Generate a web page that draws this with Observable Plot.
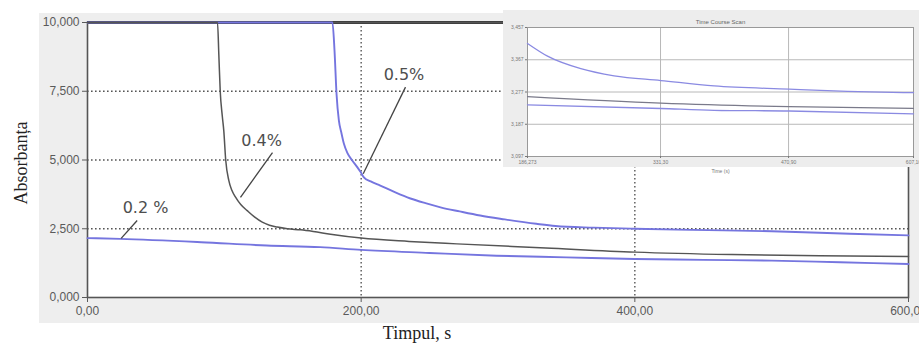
<!DOCTYPE html>
<html>
<head>
<meta charset="utf-8">
<script src="https://cdn.jsdelivr.net/npm/d3@7"></script>
<script src="https://cdn.jsdelivr.net/npm/@observablehq/plot@0.6"></script>
<style>
  body { margin: 0; background: #fff; }
  #wrap { position: relative; width: 919px; height: 343px; overflow: hidden; background: #fff; }
  #panel { position: absolute; left: 39px; top: 13px; width: 880px; height: 310px; background: #eeeeee; }
  #main { position: absolute; left: 0; top: 0; }
  #inset { position: absolute; left: 503px; top: 10px; }
</style>
</head>
<body>
<div id="wrap"><div id="panel"></div><div id="main"></div><div id="inset"></div></div>
<script>
// ---- main chart data ----
const t05 = [0,179,180.5,182,183.7,185.5,187.4,190,193.5,197,199.6,202,207,214,225,236,247,258,272,287,305,328,342,370,400,442,500,557,600];
const a05 = [10,10,9,7.4,6.44,6.0,5.59,5.25,4.98,4.75,4.56,4.37,4.22,4.07,3.82,3.6,3.43,3.28,3.13,2.98,2.84,2.68,2.6,2.54,2.5,2.46,2.41,2.32,2.26];
const t04 = [0,95,96,97,98.5,99.6,101,103.3,105.5,108.2,112,116.7,122,127.7,133,138.7,146,155.7,165,177.6,200,235,270,335,400,471,535,600];
const a04 = [10,10,8.8,7.5,6.6,6.07,5.0,4.25,3.9,3.65,3.38,3.16,2.93,2.74,2.63,2.56,2.5,2.46,2.4,2.3,2.16,2.04,1.95,1.8,1.65,1.56,1.52,1.49];
const t02 = [0,24,83,131,170,200,250,299,350,400,450,500,550,600];
const a02 = [2.16,2.13,2.01,1.89,1.83,1.73,1.62,1.52,1.46,1.40,1.37,1.34,1.28,1.22];

const yTicks = [0, 2.5, 5, 7.5, 10];
const yTickLabels = ["0,000", "2,500", "5,000", "7,500", "10,000"];
const xTicks = [0, 200, 400, 600];
const xTickLabels = ["0,00", "200,00", "400,00", "600,00"];
const yGrid = [2.5, 5, 7.5];
const xGrid = [200, 400];

const annText = ["0.2 %", "0.4%", "0.5%"];
const annX = [42.4, 127.2, 231.3];
const annY = [3.25, 5.69, 8.11];
const leadX1 = [24.6, 111.8, 201.5];
const leadY1 = [2.15, 3.64, 4.50];
const leadX2 = [36.3, 135.2, 232.4];
const leadY2 = [2.8, 5.27, 7.65];

const yTitle = "Absorbanța";
const xTitle = "Timpul, s";

// ---- inset data ----
const insT = [186.27,208.1,244.4,280.7,331.6,389.7,471.5,535.1,607.1];
const insTop = [3.4125,3.377,3.342,3.322,3.309,3.294,3.285,3.279,3.275];
const insMidT = [186.27,331.6,471.5,607.1];
const insMid = [3.264,3.246,3.236,3.231];
const insLowT = [186.27,331.6,389.7,471.5,607.1];
const insLow = [3.241,3.231,3.226,3.224,3.216];
const insYTicks = [3.097,3.187,3.277,3.367,3.457];
const insYLabels = ["3,097","3,187","3,277","3,367","3,457"];
const insXTicks = [186.27,331.3,470.9,607.1];
const insXLabels = ["186,273","331,30","470,90","607,10"];
const insTitle = "Time Course Scan";
const insXTitle = "Time (s)";

const BLUE = "#7575df";
const GRAY = "#555555";

const toRows = (ts, vs) => ts.map((t, i) => ({t, v: vs[i]}));
const s05 = toRows(t05, a05), s04 = toRows(t04, a04), s02 = toRows(t02, a02);
const ann = annText.map((s, i) => ({s, x: annX[i], y: annY[i]}));
const leads = leadX1.map((x1, i) => ({x1, y1: leadY1[i], x2: leadX2[i], y2: leadY2[i]}));

const dotted = {stroke: "#555", strokeWidth: 1.4, strokeDasharray: "1.6,2.4"};

const main = Plot.plot({
  width: 919, height: 343,
  marginLeft: 87, marginRight: 11, marginTop: 22, marginBottom: 46,
  x: {domain: [0, 600]},
  y: {domain: [0, 10]},
  style: {background: "transparent", color: "#5a5a5a", fontFamily: "'Liberation Sans', Arial, sans-serif", overflow: "visible"},
  marks: [
    Plot.frame({fill: "white", stroke: null}),
    Plot.ruleY(yGrid, dotted),
    Plot.ruleX(xGrid, dotted),
    Plot.ruleY([10], {stroke: "#383838", strokeWidth: 3}),
    Plot.frame({stroke: "#555", strokeWidth: 1.6}),
    Plot.line(s05, {x: "t", y: "v", stroke: BLUE, strokeWidth: 1.9, curve: "monotone-x"}),
    Plot.line(s04, {x: "t", y: "v", stroke: GRAY, strokeWidth: 1.5, curve: "monotone-x"}),
    Plot.line(s02, {x: "t", y: "v", stroke: BLUE, strokeWidth: 1.9, curve: "monotone-x"}),
    Plot.link(leads, {x1: "x1", y1: "y1", x2: "x2", y2: "y2", stroke: "#444", strokeWidth: 1.3}),
    Plot.text(ann, {x: "x", y: "y", text: "s", fontSize: 16, fontFamily: "'DejaVu Sans', sans-serif", fill: "#4e4e4e"}),
    Plot.axisY({ticks: yTicks, tickFormat: d => yTickLabels[yTicks.indexOf(d)], tickSize: 5, tickPadding: 3, fontSize: 12, label: null}),
    Plot.axisX({ticks: xTicks, tickFormat: d => xTickLabels[xTicks.indexOf(d)], tickSize: 5, tickPadding: 4, fontSize: 12, label: null}),
    Plot.text([yTitle], {frameAnchor: "left", textAnchor: "middle", dx: -66.5, dy: 3, rotate: -90, fontSize: 18, fontFamily: "'Liberation Serif', 'Times New Roman', serif", fill: "#222", letterSpacing: "1.8px"}),
    Plot.text([xTitle], {frameAnchor: "bottom", textAnchor: "middle", dx: -81, dy: 36, lineAnchor: "middle", fontSize: 18, fontFamily: "'Liberation Serif', 'Times New Roman', serif", fill: "#222", letterSpacing: "1.3px"})
  ]
});
document.getElementById("main").append(main);

const inset = Plot.plot({
  width: 416, height: 157,
  marginLeft: 24, marginRight: 6, marginTop: 17, marginBottom: 11,
  x: {domain: [186.27, 607.1]},
  y: {domain: [3.097, 3.457]},
  style: {background: "#ededed", color: "#777", fontFamily: "'Liberation Sans', Arial, sans-serif", overflow: "visible"},
  marks: [
    Plot.frame({fill: "white", stroke: null}),
    Plot.ruleY(insYTicks, {stroke: "#b8b8b8", strokeWidth: 1}),
    Plot.ruleX(insXTicks, {stroke: "#b8b8b8", strokeWidth: 1}),
    Plot.frame({stroke: "#999", strokeWidth: 1}),
    Plot.line(toRows(insT, insTop), {x: "t", y: "v", stroke: "#8a8ae2", strokeWidth: 1.3, curve: "monotone-x"}),
    Plot.line(toRows(insMidT, insMid), {x: "t", y: "v", stroke: "#7a7a8a", strokeWidth: 1.2, curve: "monotone-x"}),
    Plot.line(toRows(insLowT, insLow), {x: "t", y: "v", stroke: "#8a8ae2", strokeWidth: 1.3, curve: "monotone-x"}),
    Plot.axisY({ticks: insYTicks, tickFormat: d => insYLabels[insYTicks.indexOf(d)], tickSize: 2, tickPadding: 2, fontSize: 5, label: null}),
    Plot.axisX({ticks: insXTicks, tickFormat: d => insXLabels[insXTicks.indexOf(d)], tickSize: 2, tickPadding: 2, fontSize: 5, label: null}),
    Plot.text([insTitle], {frameAnchor: "top", dy: -8, fontSize: 6, fill: "#666"}),
    Plot.text([insXTitle], {frameAnchor: "bottom", dy: 16, fontSize: 5, fill: "#777"})
  ]
});
document.getElementById("inset").append(inset);
</script>
</body>
</html>
